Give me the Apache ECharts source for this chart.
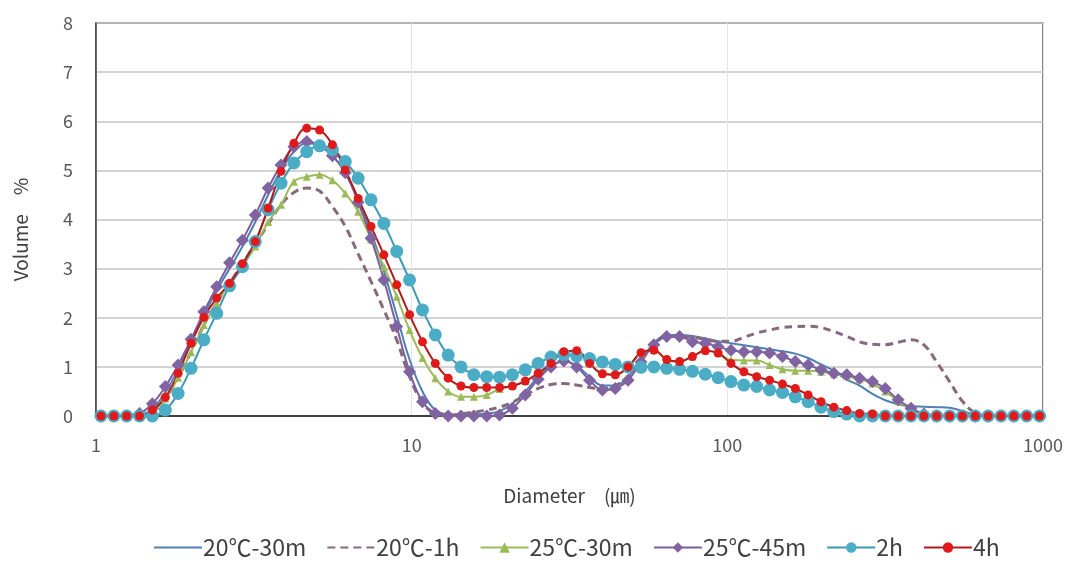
<!DOCTYPE html>
<html>
<head>
<meta charset="utf-8">
<script src="https://cdn.jsdelivr.net/npm/echarts@6/dist/echarts.min.js"></script>
<style>
  html, body { margin: 0; padding: 0; background: #fff; }
  #chart { width: 1079px; height: 574px; }
</style>
</head>
<body>
<div id="chart"></div>
<script>
// particle diameter bins (µm)
const diameters = [1.037, 1.139, 1.251, 1.374, 1.509, 1.658, 1.820, 2.000, 2.196, 2.412,
  2.649, 2.910, 3.196, 3.510, 3.855, 4.235, 4.651, 5.108, 5.611, 6.162,
  6.768, 7.434, 8.165, 8.967, 9.847, 10.82, 11.88, 13.05, 14.33, 15.74,
  17.29, 18.99, 20.85, 22.90, 25.16, 27.63, 30.34, 33.33, 36.61, 40.21,
  44.16, 48.50, 53.27, 58.51, 64.26, 70.58, 77.52, 85.14, 93.51, 102.7,
  112.8, 123.9, 136.1, 149.5, 164.2, 180.3, 198.1, 217.5, 238.9, 262.4,
  288.2, 316.5, 347.6, 381.8, 419.4, 460.6, 505.9, 555.6, 610.3, 670.3,
  736.2, 808.6, 888.1, 975.2]

const seriesNames = ['20℃-30m', '20℃-1h', '25℃-30m', '25℃-45m', '2h', '4h']

const v20_30m = [0, 0, 0, 0.02, 0.15, 0.48, 0.95, 1.5, 2.05, 2.55,
  3.0, 3.45, 3.95, 4.5, 5.0, 5.38, 5.55, 5.5, 5.3, 4.95,
  4.4, 3.75, 2.95, 2.05, 1.15, 0.5, 0.12, 0.03, 0.02, 0.03,
  0.05, 0.1, 0.25, 0.5, 0.8, 1.02, 1.12, 1.02, 0.8, 0.62,
  0.62, 0.8, 1.15, 1.48, 1.65, 1.65, 1.63, 1.58, 1.52, 1.48,
  1.44, 1.4, 1.36, 1.32, 1.27, 1.18, 1.05, 0.92, 0.74, 0.62,
  0.45, 0.32, 0.24, 0.2, 0.19, 0.18, 0.17, 0.1, 0.02, 0,
  0, 0, 0, 0]

const v20_1h = [0, 0, 0, 0, 0.08, 0.35, 0.78, 1.3, 1.85, 2.3,
  2.7, 3.1, 3.5, 3.9, 4.3, 4.55, 4.64, 4.58, 4.26, 3.86,
  3.3, 2.74, 2.16, 1.55, 0.8, 0.28, 0.05, 0.02, 0.04, 0.08,
  0.12, 0.18, 0.28, 0.42, 0.56, 0.64, 0.66, 0.63, 0.58, 0.56,
  0.62, 0.8, 1.12, 1.45, 1.62, 1.62, 1.6, 1.56, 1.52, 1.52,
  1.6, 1.69, 1.75, 1.8, 1.82, 1.83, 1.8, 1.72, 1.62, 1.51,
  1.46, 1.45, 1.5, 1.55, 1.45, 1.1, 0.7, 0.3, 0.06, 0,
  0, 0, 0, 0]

const v25_30m = [0, 0, 0, 0.02, 0.1, 0.35, 0.78, 1.3, 1.85, 2.3,
  2.7, 3.05, 3.45, 3.95, 4.3, 4.77, 4.87, 4.91, 4.8, 4.53,
  4.16, 3.6, 3.04, 2.43, 1.75, 1.18, 0.77, 0.5, 0.39, 0.39,
  0.43, 0.55, 0.61, 0.71, 0.87, 1.07, 1.3, 1.32, 1.07, 0.87,
  0.85, 1.0, 1.28, 1.34, 1.15, 1.11, 1.21, 1.33, 1.28, 1.14,
  1.13, 1.13, 1.04, 0.95, 0.92, 0.92, 0.9, 0.85, 0.81, 0.75,
  0.66, 0.5, 0.3, 0.14, 0.03, 0, 0, 0, 0, 0,
  0, 0, 0, 0]

const v25_45m = [0, 0, 0, 0.05, 0.25, 0.6, 1.04, 1.56, 2.12, 2.63,
  3.12, 3.58, 4.09, 4.64, 5.11, 5.48, 5.59, 5.5, 5.3, 4.95,
  4.35, 3.62, 2.77, 1.82, 0.9, 0.29, 0.05, 0, 0, 0,
  0, 0.02, 0.16, 0.43, 0.75, 1.0, 1.12, 1.0, 0.73, 0.53,
  0.56, 0.73, 1.1, 1.45, 1.62, 1.62, 1.51, 1.48, 1.41, 1.34,
  1.31, 1.31, 1.28, 1.21, 1.11, 1.04, 0.94, 0.87, 0.84, 0.77,
  0.7, 0.56, 0.33, 0.16, 0.04, 0, 0, 0, 0, 0,
  0, 0, 0, 0]

const v2h = [0, 0, 0, 0, 0, 0.12, 0.46, 0.97, 1.55, 2.09,
  2.65, 3.04, 3.55, 4.2, 4.74, 5.15, 5.38, 5.5, 5.42, 5.18,
  4.84, 4.4, 3.92, 3.35, 2.77, 2.16, 1.65, 1.24, 1.0, 0.84,
  0.8, 0.79, 0.84, 0.94, 1.07, 1.2, 1.25, 1.22, 1.17, 1.1,
  1.05, 1.0, 0.99, 1.0, 0.97, 0.95, 0.91, 0.85, 0.78, 0.7,
  0.63, 0.6, 0.53, 0.48, 0.39, 0.29, 0.18, 0.09, 0.04, 0,
  0, 0, 0, 0, 0, 0, 0, 0, 0, 0,
  0, 0, 0, 0]

const v4h = [0, 0, 0, 0, 0.12, 0.38, 0.87, 1.48, 2.01, 2.4,
  2.7, 3.1, 3.55, 4.23, 4.98, 5.55, 5.86, 5.82, 5.52, 5.01,
  4.43, 3.86, 3.28, 2.67, 2.06, 1.51, 1.07, 0.77, 0.61, 0.58,
  0.58, 0.58, 0.61, 0.71, 0.87, 1.07, 1.31, 1.33, 1.07, 0.86,
  0.84, 1.0, 1.29, 1.34, 1.15, 1.11, 1.21, 1.33, 1.28, 1.07,
  0.9, 0.8, 0.73, 0.65, 0.56, 0.43, 0.29, 0.18, 0.11, 0.05,
  0.04, 0, 0, 0, 0, 0, 0, 0, 0, 0,
  0, 0, 0, 0]

const yTicks = [0, 1, 2, 3, 4, 5, 6, 7, 8]

const pair = (vals) => diameters.map((d, i) => [d, vals[i]])

const font = '"Noto Sans CJK JP", "Noto Sans", sans-serif'

const chart = echarts.init(document.getElementById('chart'))
const option = {
  animation: false,
  backgroundColor: '#fff',
  textStyle: { fontFamily: font },
  grid: {
    left: 96,
    right: 36,
    top: 23,
    bottom: 158,
    show: true,
    borderColor: '#5a5a5a',
    borderWidth: 1.5
  },
  legend: {
    // line-only entries: hide the marker in the legend icon
    data: [
      { name: seriesNames[0], itemStyle: { opacity: 0 } },
      { name: seriesNames[1], itemStyle: { opacity: 0 } },
      seriesNames[2], seriesNames[3], seriesNames[4], seriesNames[5]
    ],
    left: 148,
    top: 531,
    itemWidth: 48,
    itemHeight: 13,
    itemGap: 20,
    textStyle: { fontSize: 23, color: '#404040', fontFamily: font, padding: [0, 0, 0, -4] }
  },
  xAxis: {
    type: 'log',
    logBase: 10,
    min: 1,
    max: 1000,
    name: 'Diameter　(㎛)',
    nameLocation: 'middle',
    nameGap: 70,
    nameTextStyle: { fontSize: 19, color: '#404040' },
    axisLine: { lineStyle: { color: '#404040', width: 2 } },
    axisTick: { show: false },
    minorTick: { show: false },
    axisLabel: { fontSize: 18, color: '#595959', margin: 20, formatter: (v) => String(v) },
    splitLine: { show: true, lineStyle: { color: '#e6e6e6', width: 1 } }
  },
  yAxis: {
    type: 'value',
    min: yTicks[0],
    max: yTicks[yTicks.length - 1],
    interval: 1,
    name: 'Volume　%',
    nameLocation: 'middle',
    nameGap: 66,
    nameTextStyle: { fontSize: 19, color: '#404040', padding: [0, 20, 0, 0] },
    axisLine: { show: true, lineStyle: { color: '#404040', width: 1.5 } },
    axisTick: { show: false },
    axisLabel: { fontSize: 18, color: '#595959', margin: 23 },
    splitLine: { lineStyle: { color: '#c4c4c4', width: 1.5 } }
  },
  series: [
    {
      name: seriesNames[0],
      type: 'line',
      data: pair(v20_30m),
      smooth: 0.4,
      symbol: 'none',
      color: '#4f7fb3',
      lineStyle: { width: 2, color: '#4f7fb3' }
    },
    {
      name: seriesNames[1],
      type: 'line',
      data: pair(v20_1h),
      smooth: 0.4,
      symbol: 'none',
      color: '#86697b',
      lineStyle: { width: 3, type: [8, 5], color: '#86697b' }
    },
    {
      name: seriesNames[2],
      type: 'line',
      data: pair(v25_30m),
      smooth: 0.4,
      symbol: 'triangle',
      symbolSize: 8,
      color: '#9bbb59',
      lineStyle: { width: 2, color: '#9bbb59' }
    },
    {
      name: seriesNames[3],
      type: 'line',
      data: pair(v25_45m),
      smooth: 0.4,
      symbol: 'diamond',
      symbolSize: 13,
      color: '#8064a2',
      lineStyle: { width: 2, color: '#7a5f9c' }
    },
    {
      name: seriesNames[4],
      type: 'line',
      data: pair(v2h),
      smooth: 0.4,
      symbol: 'circle',
      symbolSize: 13,
      color: '#4bacc6',
      lineStyle: { width: 2, color: '#3d9ab4' }
    },
    {
      name: seriesNames[5],
      type: 'line',
      data: pair(v4h),
      smooth: 0.4,
      symbol: 'circle',
      symbolSize: 9,
      color: '#e01a1a',
      lineStyle: { width: 2, color: '#b01c1c' }
    }
  ]
}
chart.setOption(option)
</script>
</body>
</html>
